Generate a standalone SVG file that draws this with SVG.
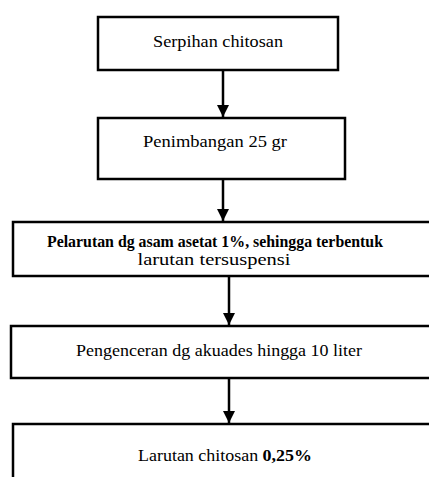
<svg xmlns="http://www.w3.org/2000/svg" width="429" height="477" viewBox="0 0 429 477">
<style>
.box{fill:#fff;stroke:#000;stroke-width:2.5}
.t{font-family:"Liberation Serif","Times New Roman",serif;font-size:17px;fill:#000;text-anchor:middle}
.b{font-weight:bold}
.c{stroke:#000;stroke-width:2.5;fill:none}
</style>
<defs>
<marker id="ah" markerUnits="userSpaceOnUse" markerWidth="14" markerHeight="12" refX="12" refY="6" orient="auto">
<path d="M0,0 L12,6 L0,12 Z" fill="#000"/>
</marker>
</defs>
<rect width="429" height="477" fill="#fff"/>
<g id="n1">
<rect class="box" x="98" y="17" width="240" height="53"/>
<text class="t" x="218" y="47" textLength="130" lengthAdjust="spacingAndGlyphs">Serpihan chitosan</text>
</g>
<g id="n2">
<rect class="box" x="98" y="118" width="247" height="61"/>
<text class="t" x="215" y="147" textLength="144" lengthAdjust="spacingAndGlyphs">Penimbangan 25 gr</text>
</g>
<g id="n3">
<rect class="box" x="13" y="222" width="430" height="54"/>
<text class="t b" x="215" y="247" textLength="336" lengthAdjust="spacingAndGlyphs">Pelarutan dg asam asetat 1%, sehingga terbentuk</text>
<text class="t" x="214" y="265" textLength="153" lengthAdjust="spacingAndGlyphs">larutan tersuspensi</text>
</g>
<g id="n4">
<rect class="box" x="11" y="326" width="432" height="52"/>
<text class="t" x="219" y="356" textLength="286" lengthAdjust="spacingAndGlyphs">Pengenceran dg akuades hingga 10 liter</text>
</g>
<g id="n5">
<rect class="box" x="13" y="424" width="430" height="70"/>
<text class="t" x="225" y="461" textLength="174" lengthAdjust="spacingAndGlyphs">Larutan chitosan <tspan class="b">0,25%</tspan></text>
</g>
<g id="connectors">
<line class="c" x1="223" y1="70" x2="223" y2="117" marker-end="url(#ah)"/>
<line class="c" x1="223" y1="179" x2="223" y2="221" marker-end="url(#ah)"/>
<line class="c" x1="229" y1="276" x2="229" y2="325" marker-end="url(#ah)"/>
<line class="c" x1="229" y1="378" x2="229" y2="423" marker-end="url(#ah)"/>
</g>
</svg>
